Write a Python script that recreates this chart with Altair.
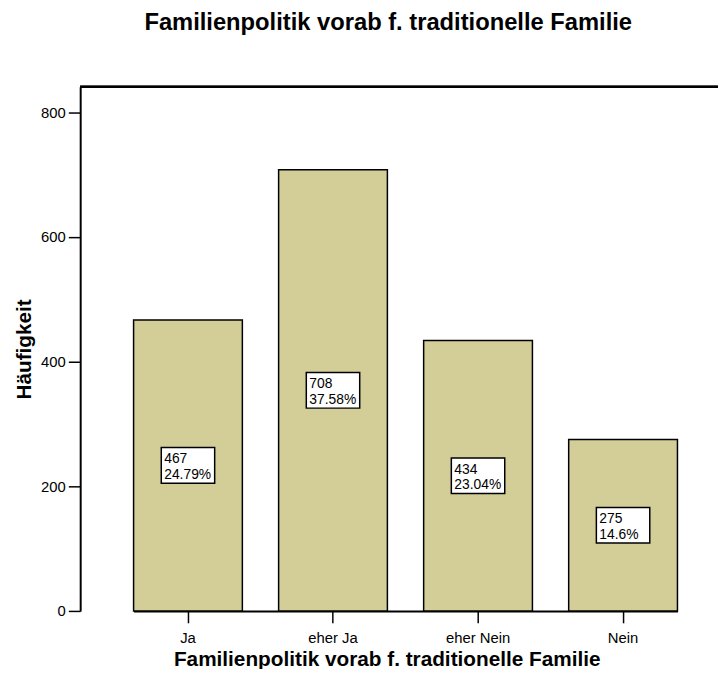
import altair as alt
import pandas as pd

categories = ["Ja", "eher Ja", "eher Nein", "Nein"]
counts = [467, 708, 434, 275]
percents = ["24.79%", "37.58%", "23.04%", "\u00a014.6%"]

df = pd.DataFrame({"cat": categories, "count": counts, "pct": percents})
df["label"] = [f"{c}\n{p}" for c, p in zip(counts, percents)]

W, H = 645, 530
FONT = "Liberation Sans"

x = alt.X("cat:N", sort=categories,
          scale=alt.Scale(range=[54, 604], paddingInner=0.25, paddingOuter=0),
          axis=alt.Axis(title="Familienpolitik vorab f. traditionelle Familie",
                        labelAngle=0, tickSize=12, labelPadding=8,
                        titleX=310, titleY=55, titleAlign="center",
                        titleBaseline="alphabetic",
                        tickWidth=1.5, domainWidth=2))
y_scale = alt.Scale(domain=[0, 841], nice=False)

base = alt.Chart(df)

bars = base.mark_bar(color="#D3CE97", stroke="black", strokeWidth=1.5).encode(
    x=x,
    y=alt.Y("count:Q", scale=y_scale,
            axis=alt.Axis(title="Häufigkeit", values=[0, 200, 400, 600, 800],
                          grid=False, tickSize=12, labelPadding=3,
                          titlePadding=6, tickWidth=1.5, domainWidth=2)),
)

boxes = base.transform_calculate(mid="datum.count / 2").mark_point(
    shape="M-1,-0.667L1,-0.667L1,0.667L-1,0.667Z", size=2916, filled=True,
    fill="white", stroke="black", strokeWidth=1.5, opacity=1,
).encode(x=alt.X("cat:N", sort=categories), y=alt.Y("mid:Q", scale=y_scale))

texts = base.transform_calculate(mid="datum.count / 2").mark_text(
    align="left", baseline="middle", dx=-24, dy=-6, lineBreak="\n",
    lineHeight=15.5, fontSize=14, font=FONT, color="black",
).encode(x=alt.X("cat:N", sort=categories), y=alt.Y("mid:Q", scale=y_scale),
         text="label:N")

top = base.mark_rule(color="black", strokeWidth=2).encode(
    x=alt.value(0), x2=alt.value(W), y=alt.value(0))

chart = alt.layer(bars, boxes, texts, top).properties(
    width=W, height=H,
    title=alt.TitleParams("Familienpolitik vorab f. traditionelle Familie",
                          anchor="middle", dx=-11, offset=51, fontSize=24,
                          font=FONT, fontWeight="bold", color="black"),
    autosize=alt.AutoSizeParams(type="none"),
    padding={"left": 73, "top": 76, "right": 0, "bottom": 55},
).configure_view(stroke=None).configure_axis(
    labelFont=FONT, titleFont=FONT, labelFontSize=15, titleFontSize=21,
    titleFontWeight="bold", labelColor="black", titleColor="black",
    domainColor="black", tickColor="black",
)

chart.save("out.html", embed_options={"renderer": "svg", "actions": False})
